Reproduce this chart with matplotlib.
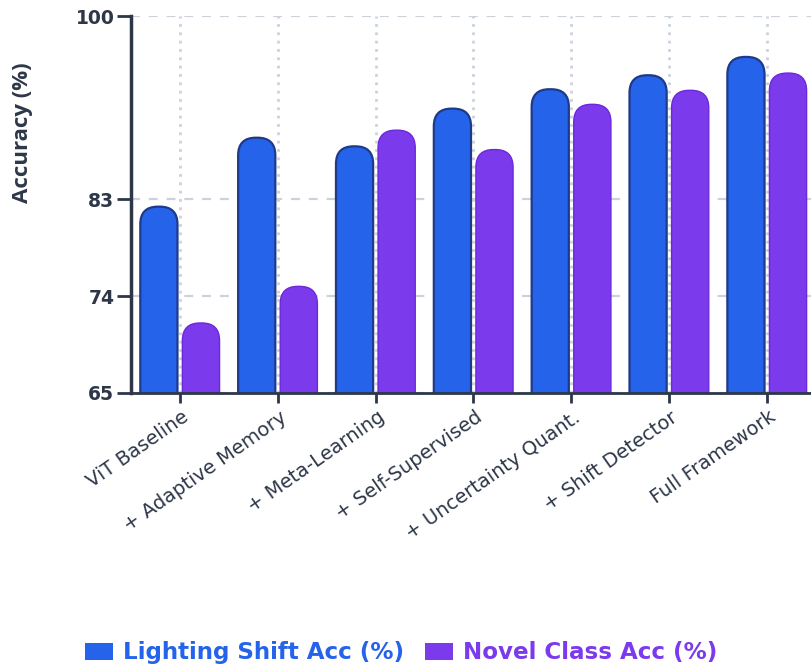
import matplotlib
matplotlib.use("Agg")
import matplotlib.pyplot as plt
import matplotlib.transforms as mtransforms
from matplotlib.patches import FancyBboxPatch, Patch

# ablation results
stages = ["ViT Baseline", "+ Adaptive Memory", "+ Meta-Learning", "+ Self-Supervised",
          "+ Uncertainty Quant.", "+ Shift Detector", "Full Framework"]
lighting_acc = [82.3, 88.7, 87.9, 91.4, 93.2, 94.5, 96.2]
novel_acc = [71.5, 74.9, 89.4, 87.6, 91.8, 93.1, 94.7]
y_ticks = [65, 74, 83, 100]
series_names = ["Lighting Shift Acc (%)", "Novel Class Acc (%)"]

plt.rcParams['font.family'] = ['DejaVu Sans']

BLUE = "#2563eb"
PURPLE = "#7c3aed"
DARK = "#2d3748"
GRID = "#cbd2dc"

W, H = 811, 668
fig = plt.figure(figsize=(W / 100, H / 100), dpi=100)
ax = fig.add_axes([131 / W, 1 - 393 / H, 1 - 131 / W, 377 / H])
xmin, xmax = -0.5, 6.45
ymin, ymax = 65, 100
ax.set_xlim(xmin, xmax)
ax.set_ylim(ymin, ymax)

# pixels per data unit, used to keep the bar caps round
xpx = (W - 131) / (xmax - xmin)
ypx = 377 / (ymax - ymin)
aspect = xpx / ypx

bar_w = 0.38
offset = 0.215


def rounded_bar(x, top, fc, ec, lw):
    # start below the axis so only the top corners show as rounded
    base = ymin - 5
    p = FancyBboxPatch((x - bar_w / 2, base), bar_w, top - base,
                       boxstyle="round,pad=0,rounding_size=0.18",
                       mutation_aspect=aspect, fc=fc, ec=ec, lw=lw, zorder=3)
    ax.add_patch(p)


for i in range(len(stages)):
    rounded_bar(i - offset, lighting_acc[i], BLUE, "#1e3a8a", 1.6)
    rounded_bar(i + offset, novel_acc[i], PURPLE, "#6d28d9", 1.0)

# grid
for y in y_ticks:
    ax.axhline(y, color=GRID, lw=1.6, ls=(0, (4, 4)), zorder=1)
for i in range(len(stages)):
    ax.axvline(i, color=GRID, lw=2, ls=(0, (1, 2)), zorder=1)

for s in ["top", "right"]:
    ax.spines[s].set_visible(False)
ax.spines["left"].set_color(DARK)
ax.spines["left"].set_linewidth(2.5)
ax.spines["bottom"].set_color(DARK)
ax.spines["bottom"].set_linewidth(2)
ax.spines["left"].set_zorder(4)
ax.spines["bottom"].set_zorder(4)

ax.set_yticks(y_ticks)
ax.set_yticklabels([str(v) for v in y_ticks], fontsize=13.5, fontweight="bold", color=DARK)
ax.tick_params(axis="y", length=10, width=2, color=DARK, pad=2)
ax.set_xticks(range(len(stages)))
ax.set_xticklabels(stages, rotation=35, ha="right", va="center", rotation_mode="anchor",
                   fontsize=14, color=DARK)
ax.tick_params(axis="x", length=7, width=2, color=DARK, pad=9)
shift = mtransforms.ScaledTranslation(5 / 72, 0, fig.dpi_scale_trans)
for lbl in ax.get_xticklabels():
    lbl.set_transform(lbl.get_transform() + shift)

ax.set_ylabel("Accuracy (%)", fontsize=16, fontweight="bold", color=DARK,
              family=["Open Sans", "DejaVu Sans"])
ax.yaxis.set_label_coords(-0.144, 0.69)

handles = [Patch(fc=BLUE), Patch(fc=PURPLE)]
leg = fig.legend(handles, series_names, loc="center left",
                 bbox_to_anchor=(85 / W, 1 - 653 / H), ncol=2, frameon=False,
                 prop={"size": 16.6, "weight": "bold"}, borderpad=0, borderaxespad=0,
                 handlelength=1.2, handleheight=0.7, columnspacing=0.9, handletextpad=0.45)
for t, c in zip(leg.get_texts(), [BLUE, PURPLE]):
    t.set_color(c)

fig.savefig("out.png", dpi=100)
